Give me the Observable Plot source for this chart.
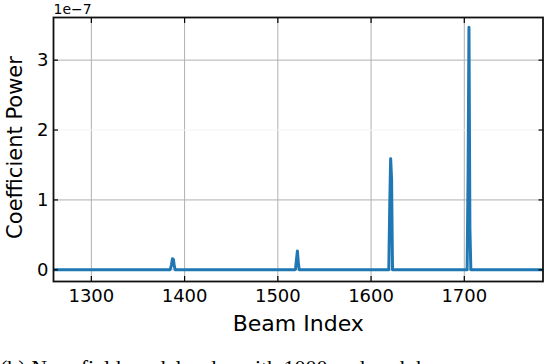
<!DOCTYPE html>
<html>
<head>
<meta charset="utf-8">
<script src="https://cdn.jsdelivr.net/npm/d3@7"></script>
<script src="https://cdn.jsdelivr.net/npm/@observablehq/plot@0.6"></script>
<style>
  html, body { margin: 0; padding: 0; background: #fff; overflow: hidden; width: 544px; height: 364px; position: relative; }
  #chart svg { display: block; }
  #caption { position: absolute; left: 0; top: 357px; font-family: "Liberation Serif", "DejaVu Serif", serif; font-size: 22px; white-space: nowrap; line-height: 22px; }
</style>
</head>
<body>
<div id="chart"></div>
<div id="caption"></div>
<script>
// Beam index and coefficient power (units of 1e-7)
const beams = [1250, 1384, 1385, 1386, 1387, 1388, 1389, 1390, 1392,
  1518, 1519, 1520, 1521, 1522, 1523, 1525,
  1618, 1619, 1620, 1621, 1622, 1623, 1625,
  1702, 1703, 1704, 1705, 1706, 1707, 1709, 1790];
const power = [0, 0, 0.02, 0.08, 0.16, 0.15, 0.05, 0, 0,
  0, 0.01, 0.15, 0.27, 0.1, 0, 0,
  0, 0.0, 0.9, 1.59, 1.3, 0.0, 0,
  0, 0.0, 1.3, 3.47, 0.6, 0.0, 0, 0];
const xTicks = [1300, 1400, 1500, 1600, 1700];
const yTicks = [0, 1, 2, 3];
const xDomain = [1259.4, 1784.4];
const yDomain = [-0.167, 3.61];
const xLabel = "Beam Index";
const yLabel = "Coefficient Power";
const unitLabel = "1e\u22127";
const captionText = "(b) Near-field model order with 1000 and each beam";

const data = beams.map((b, i) => ({beam: b, power: power[i]}));
const font = "DejaVu Sans, sans-serif";

const plot = Plot.plot({
  width: 544,
  height: 345,
  marginLeft: 53,
  marginRight: 1.5,
  marginTop: 17,
  marginBottom: 64,
  style: {fontFamily: font, color: "black", background: "white"},
  x: {domain: xDomain, label: null},
  y: {domain: yDomain, label: null},
  marks: [
    Plot.gridX(xTicks, {stroke: "#b0b0b0", strokeOpacity: 1, strokeWidth: 1}),
    Plot.gridY(yTicks, {stroke: d => d === 2 ? "#f3f3f3" : "#b0b0b0", strokeOpacity: 1, strokeWidth: 1}),
    Plot.line(data, {x: "beam", y: "power", stroke: "#1f77b4", strokeWidth: 3, clip: true}),
    // inward ticks
    Plot.axisX(xTicks, {anchor: "bottom", tickSize: -5, tickFormat: () => "", strokeWidth: 1.2, label: null}),
    Plot.axisX(xTicks, {anchor: "top", tickSize: -5, tickFormat: () => "", strokeWidth: 1.2, label: null}),
    Plot.axisY(yTicks, {anchor: "left", tickSize: -5, tickFormat: () => "", strokeWidth: 1.2, label: null}),
    Plot.axisY(yTicks, {anchor: "right", tickSize: -5, tickFormat: () => "", strokeWidth: 1.2, label: null}),
    // tick labels
    Plot.axisX(xTicks, {anchor: "bottom", tickSize: 0, tickPadding: 8, fontSize: 18, label: null, tickFormat: d => String(d)}),
    Plot.axisY(yTicks, {anchor: "left", tickSize: 0, tickPadding: 5, fontSize: 18, label: null, tickFormat: d => String(d)}),
    // axis titles
    Plot.text([xLabel], {frameAnchor: "bottom", dy: 49, fontSize: 22, lineAnchor: "bottom", text: d => d}),
    Plot.text([yLabel], {frameAnchor: "left", dx: -38, dy: -2, fontSize: 21, rotate: -90, textAnchor: "middle", lineAnchor: "middle", text: d => d}),
    Plot.text([unitLabel], {frameAnchor: "top-left", dy: -4, fontSize: 14, textAnchor: "start", lineAnchor: "bottom", text: d => d}),
    Plot.frame({stroke: "#111", strokeWidth: 1.8})
  ]
});
document.getElementById("chart").append(plot);
document.getElementById("caption").textContent = captionText;
</script>
</body>
</html>
